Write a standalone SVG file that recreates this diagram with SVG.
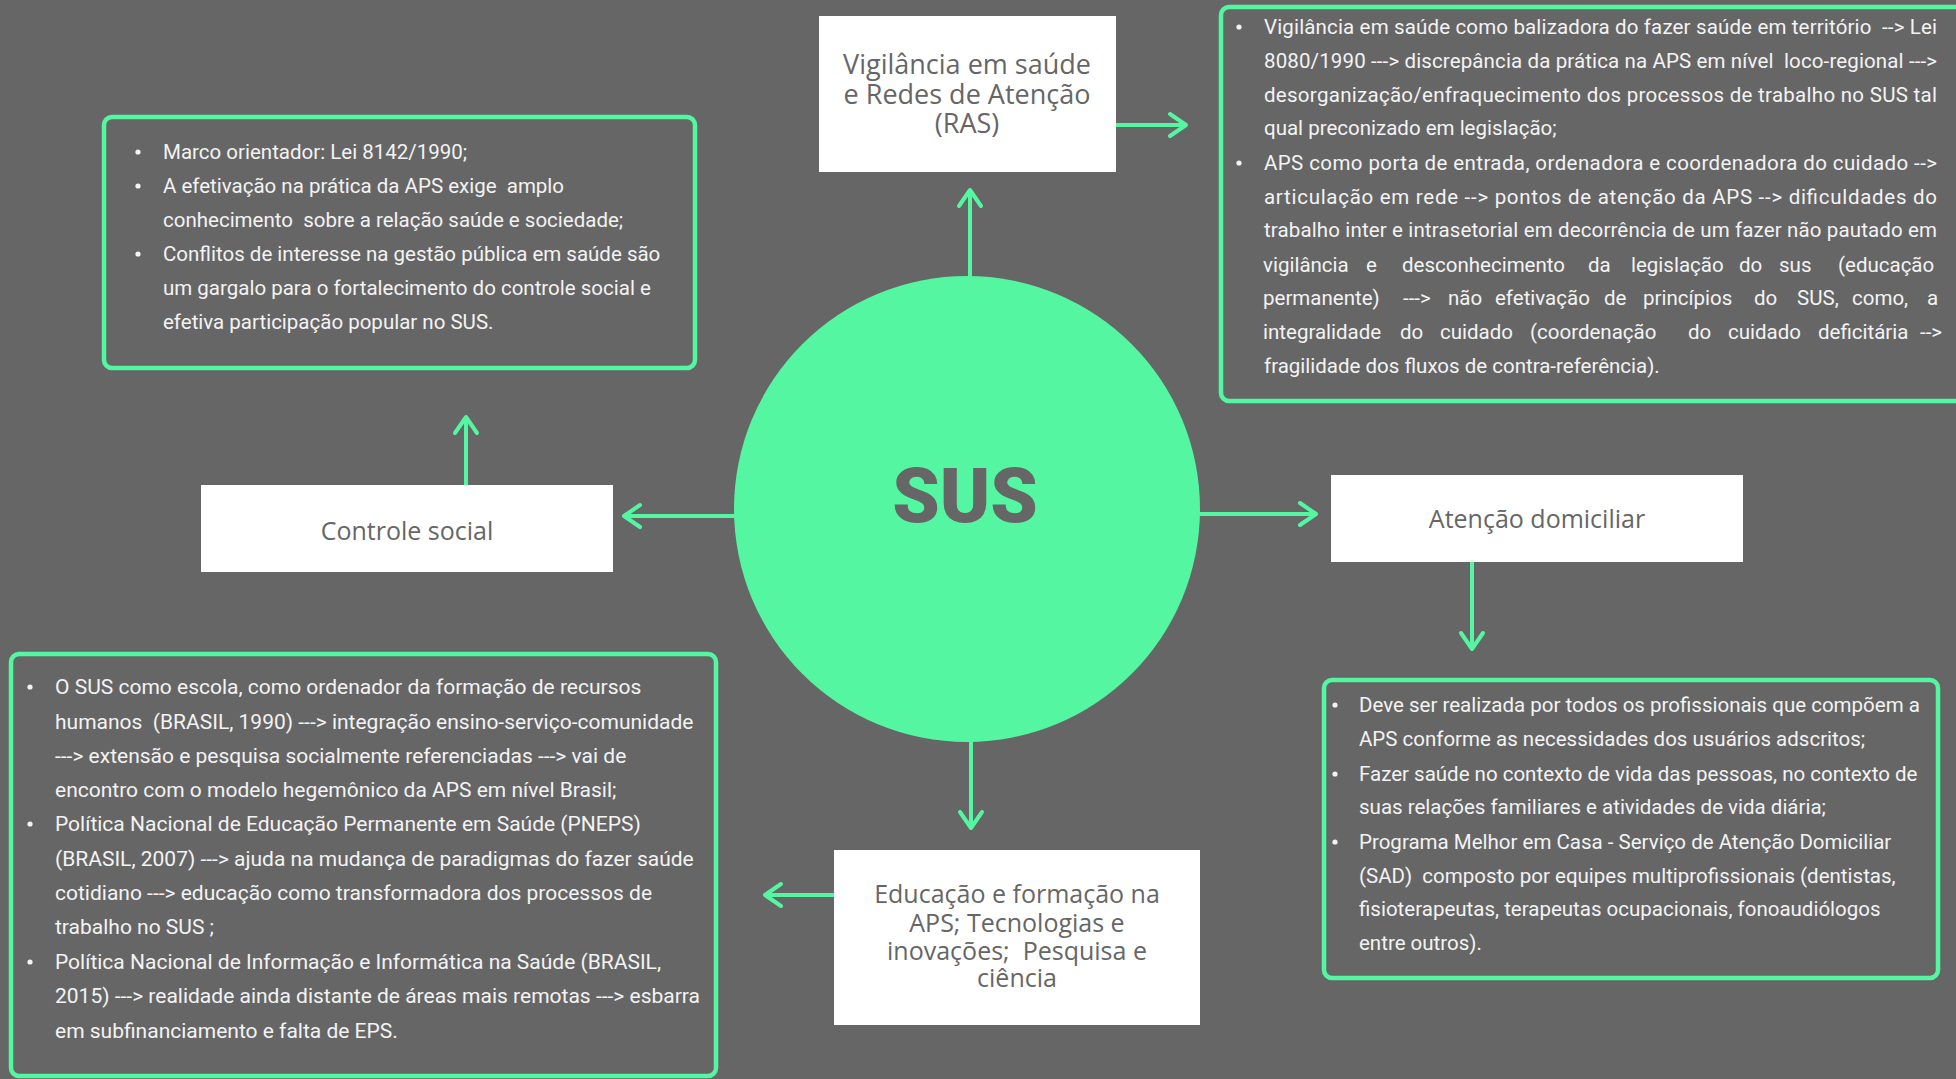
<svg xmlns="http://www.w3.org/2000/svg" width="1956" height="1079" viewBox="0 0 1956 1079">
<style>
.bg{fill:#666666}
.panel{fill:none;stroke:#55F6A1;stroke-width:4.5}
.wbox{fill:#ffffff}
.t{font-family:Roboto,"Liberation Sans",sans-serif;font-size:20.5px;fill:#f3f3f3;white-space:pre}
.t2{font-size:21px}
.lbl{font-family:"Open Sans",Lato,sans-serif;fill:#666666;text-anchor:middle;white-space:pre}
.dot{fill:#f3f3f3}
.conn{stroke:#55F6A1;stroke-width:4;fill:none;stroke-linecap:butt}
</style>
<defs>
<marker id="arr" viewBox="-20 -14 24 28" refX="0" refY="0" markerWidth="24" markerHeight="28" markerUnits="userSpaceOnUse" orient="auto">
<path d="M-16,-11 L0,0 L-16,11" fill="none" stroke="#55F6A1" stroke-width="4" stroke-linecap="round" stroke-linejoin="round"/>
</marker>
</defs>
<rect class="bg" x="0" y="0" width="1956" height="1079"/>

<g id="connectors">
<path class="conn" d="M970,277 L970,190" marker-end="url(#arr)"/>
<path class="conn" d="M1116,125 L1186,125" marker-end="url(#arr)"/>
<path class="conn" d="M736,516 L624,516" marker-end="url(#arr)"/>
<path class="conn" d="M466,485 L466,417" marker-end="url(#arr)"/>
<path class="conn" d="M1199,514 L1316,514" marker-end="url(#arr)"/>
<path class="conn" d="M1472,562 L1472,649" marker-end="url(#arr)"/>
<path class="conn" d="M971,741 L971,828" marker-end="url(#arr)"/>
<path class="conn" d="M834,895 L765,895" marker-end="url(#arr)"/>
</g>

<g id="sus">
<circle cx="967" cy="509" r="233" fill="#55F6A1"/>
<text x="965" y="522" text-anchor="middle" font-family="Roboto,'Liberation Sans',sans-serif" font-weight="900" font-size="76" fill="#666666">SUS</text>
</g>

<g id="vigilancia">
<rect class="wbox" x="819" y="16" width="297" height="156"/>
<text class="lbl" font-size="27"><tspan x="967" y="74">Vigilância em saúde</tspan><tspan x="967" y="104">e Redes de Atenção</tspan><tspan x="967" y="133">(RAS)</tspan></text>
</g>

<g id="controle-social">
<rect class="wbox" x="201" y="485" width="412" height="87"/>
<text class="lbl" font-size="25" x="407" y="540">Controle social</text>
</g>

<g id="atencao-domiciliar">
<rect class="wbox" x="1331" y="475" width="412" height="87"/>
<text class="lbl" font-size="25" x="1537" y="528">Atenção domiciliar</text>
</g>

<g id="educacao">
<rect class="wbox" x="834" y="850" width="366" height="175"/>
<text class="lbl" font-size="25"><tspan x="1017" y="903">Educação e formação na</tspan><tspan x="1017" y="932">APS; Tecnologias e</tspan><tspan x="1017" y="960">inovações;  Pesquisa e</tspan><tspan x="1017" y="987">ciência</tspan></text>
</g>

<g id="controle-social-notes">
<rect class="panel" x="104" y="117" width="591" height="251" rx="8"/>
<circle class="dot" cx="138" cy="152" r="2.6"/>
<circle class="dot" cx="138" cy="186" r="2.6"/>
<circle class="dot" cx="138" cy="254" r="2.6"/>
<text class="t"><tspan x="163" y="159">Marco orientador: Lei 8142/1990;</tspan><tspan x="163" y="193">A efetivação na prática da APS exige  amplo</tspan><tspan x="163" y="227">conhecimento  sobre a relação saúde e sociedade;</tspan><tspan x="163" y="261">Conflitos de interesse na gestão pública em saúde são</tspan><tspan x="163" y="295">um gargalo para o fortalecimento do controle social e</tspan><tspan x="163" y="329">efetiva participação popular no SUS.</tspan></text>
</g>

<g id="vigilancia-notes">
<rect class="panel" x="1221" y="7" width="800" height="394" rx="8"/>
<circle class="dot" cx="1239" cy="27" r="2.6"/>
<circle class="dot" cx="1239" cy="163" r="2.6"/>
<text class="t" x="1264" y="34" textLength="673" lengthAdjust="spacing">Vigilância em saúde como balizadora do fazer saúde em território  --&gt; Lei</text>
<text class="t" x="1264" y="68" textLength="673" lengthAdjust="spacing">8080/1990 ---&gt; discrepância da prática na APS em nível  loco-regional ---&gt;</text>
<text class="t" x="1264" y="102" textLength="673" lengthAdjust="spacing">desorganização/enfraquecimento dos processos de trabalho no SUS tal</text>
<text class="t" x="1264" y="135">qual preconizado em legislação;</text>
<text class="t" x="1264" y="170" textLength="673" lengthAdjust="spacing">APS como porta de entrada, ordenadora e coordenadora do cuidado --&gt;</text>
<text class="t" x="1264" y="204" textLength="673" lengthAdjust="spacing">articulação em rede --&gt; pontos de atenção da APS --&gt; dificuldades do</text>
<text class="t" x="1264" y="237" textLength="673" lengthAdjust="spacing">trabalho inter e intrasetorial em decorrência de um fazer não pautado em</text>
<text class="t" y="272"><tspan x="1263">vigilância</tspan><tspan x="1366">e</tspan><tspan x="1402">desconhecimento</tspan><tspan x="1588">da</tspan><tspan x="1631">legislação</tspan><tspan x="1739">do</tspan><tspan x="1779">sus</tspan><tspan x="1838">(educação</tspan></text>
<text class="t" y="305"><tspan x="1263">permanente)</tspan><tspan x="1403">---&gt;</tspan><tspan x="1448">não</tspan><tspan x="1495">efetivação</tspan><tspan x="1604">de</tspan><tspan x="1643">princípios</tspan><tspan x="1754">do</tspan><tspan x="1797">SUS,</tspan><tspan x="1852">como,</tspan><tspan x="1927">a</tspan></text>
<text class="t" y="339"><tspan x="1263">integralidade</tspan><tspan x="1400">do</tspan><tspan x="1440">cuidado</tspan><tspan x="1530">(coordenação</tspan><tspan x="1688">do</tspan><tspan x="1728">cuidado</tspan><tspan x="1818">deficitária</tspan><tspan x="1920">--&gt;</tspan></text>
<text class="t" x="1264" y="373">fragilidade dos fluxos de contra-referência).</text>
</g>

<g id="atencao-notes">
<rect class="panel" x="1324" y="680" width="614" height="298" rx="8"/>
<circle class="dot" cx="1335" cy="705" r="2.6"/>
<circle class="dot" cx="1335" cy="774" r="2.6"/>
<circle class="dot" cx="1335" cy="842" r="2.6"/>
<text class="t"><tspan x="1359" y="712">Deve ser realizada por todos os profissionais que compõem a</tspan><tspan x="1359" y="746">APS conforme as necessidades dos usuários adscritos;</tspan><tspan x="1359" y="781">Fazer saúde no contexto de vida das pessoas, no contexto de</tspan><tspan x="1359" y="814">suas relações familiares e atividades de vida diária;</tspan><tspan x="1359" y="849">Programa Melhor em Casa - Serviço de Atenção Domiciliar</tspan><tspan x="1359" y="883">(SAD)  composto por equipes multiprofissionais (dentistas,</tspan><tspan x="1359" y="916">fisioterapeutas, terapeutas ocupacionais, fonoaudiólogos</tspan><tspan x="1359" y="950">entre outros).</tspan></text>
</g>

<g id="educacao-notes">
<rect class="panel" x="11" y="654" width="705" height="422" rx="8"/>
<circle class="dot" cx="30" cy="687" r="2.6"/>
<circle class="dot" cx="30" cy="824" r="2.6"/>
<circle class="dot" cx="30" cy="962" r="2.6"/>
<text class="t t2"><tspan x="55" y="694">O SUS como escola, como ordenador da formação de recursos</tspan><tspan x="55" y="729">humanos  (BRASIL, 1990) ---&gt; integração ensino-serviço-comunidade</tspan><tspan x="55" y="763">---&gt; extensão e pesquisa socialmente referenciadas ---&gt; vai de</tspan><tspan x="55" y="797">encontro com o modelo hegemônico da APS em nível Brasil;</tspan><tspan x="55" y="831">Política Nacional de Educação Permanente em Saúde (PNEPS)</tspan><tspan x="55" y="866">(BRASIL, 2007) ---&gt; ajuda na mudança de paradigmas do fazer saúde</tspan><tspan x="55" y="900">cotidiano ---&gt; educação como transformadora dos processos de</tspan><tspan x="55" y="934">trabalho no SUS ;</tspan><tspan x="55" y="969">Política Nacional de Informação e Informática na Saúde (BRASIL,</tspan><tspan x="55" y="1003">2015) ---&gt; realidade ainda distante de áreas mais remotas ---&gt; esbarra</tspan><tspan x="55" y="1038">em subfinanciamento e falta de EPS.</tspan></text>
</g>
</svg>
